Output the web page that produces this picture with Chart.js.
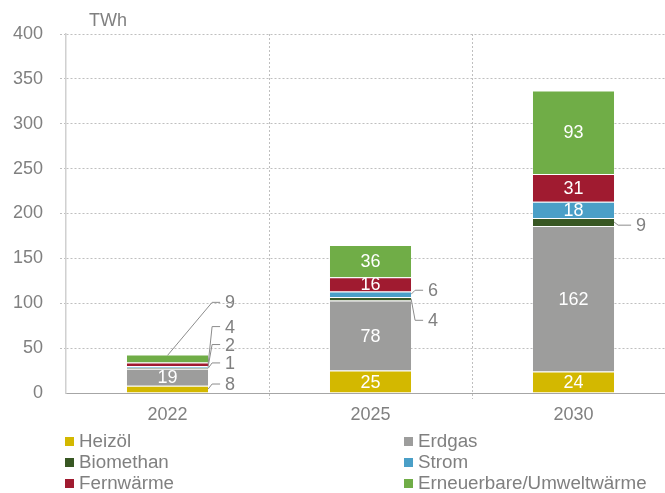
<!DOCTYPE html>
<html>
<head>
<meta charset="utf-8">
<script src="https://cdn.jsdelivr.net/npm/chart.js@4.4.0/dist/chart.umd.min.js"></script>
<style>
    html, body { margin: 0; padding: 0; background: #fff; overflow: hidden; }
    #wrap { position: relative; width: 665px; height: 493px; overflow: hidden; }
    #wrap canvas { position: absolute; left: 0; top: 0; }
    #legend { position: absolute; left: 0; top: 0; width: 665px; height: 493px; font-family: "Liberation Sans", Arial, sans-serif; font-size: 18.8px; color: #808080; }
    .item { position: absolute; display: flex; align-items: center; height: 21px; white-space: nowrap; }
    .box { width: 9px; height: 9px; margin-right: 5px; }
</style>
</head>
<body>
<div id="wrap">
    <canvas id="energyChart" width="676" height="432"></canvas>
    <div id="legend"></div>
</div>
<script>
        // --- Chart Data ---
        const years = ['2022', '2025', '2030'];
        const heizoel = [8, 25, 24];
        const erdgas = [19, 78, 162];
        const biomethan = [1, 4, 9];
        const strom = [2, 6, 18];
        const fernwaerme = [4, 16, 31];
        const erneuerbare = [9, 36, 93];
        const yMin = 0, yMax = 400, yStep = 50;
        const unitLabel = 'TWh';

        const seriesNames = ['Heizöl', 'Erdgas', 'Biomethan', 'Strom', 'Fernwärme', 'Erneuerbare/Umweltwärme'];
        const seriesData = [heizoel, erdgas, biomethan, strom, fernwaerme, erneuerbare];
        const seriesColors = ['#d3b800', '#9d9d9c', '#385723', '#4a9fc7', '#a01b30', '#70ad47'];

        // small values get an outside label with a leader line (key = dataset-index)
        // y = label height in axis units, dx = text offset from the bar's right edge
        const callouts = {
            '5-0': { y: 101, dx: 17, from: 'top' },
            '4-0': { y: 74, dx: 17 },
            '3-0': { y: 54, dx: 17 },
            '2-0': { y: 33.5, dx: 17 },
            '0-0': { y: 10, dx: 17 },
            '3-1': { y: 114.5, dx: 17 },
            '2-1': { y: 81, dx: 17 },
            '2-2': { y: 187, dx: 22 }
        };

        const FONT = '"Liberation Sans", Arial, sans-serif';
        const TEXT_GRAY = '#808080';
        const GRID_GRAY = '#bfbfbf';

        // --- Label plugin ---
        const valueLabels = {
            id: 'valueLabels',
            afterDatasetsDraw(chart) {
                const ctx = chart.ctx;
                const yScale = chart.scales.y;
                ctx.save();
                ctx.font = '18px ' + FONT;
                ctx.textBaseline = 'middle';
                chart.data.datasets.forEach((ds, di) => {
                    const meta = chart.getDatasetMeta(di);
                    meta.data.forEach((bar, i) => {
                        const v = ds.data[i];
                        const top = Math.min(bar.y, bar.base);
                        const bottom = Math.max(bar.y, bar.base);
                        const right = bar.x + bar.width / 2;
                        const c = callouts[di + '-' + i];
                        if (!c) {
                            ctx.fillStyle = '#fff';
                            ctx.textAlign = 'center';
                            ctx.fillText(String(v), bar.x, (top + bottom) / 2 + 1);
                            return;
                        }
                        const ly = yScale.getPixelForValue(c.y);
                        const tx = right + c.dx;
                        let ax, ay, bx;
                        if (c.from === 'top') {
                            ax = bar.x; ay = top + 1; bx = tx - 13;
                        } else {
                            ax = right; ay = (top + bottom) / 2; bx = right + 4;
                        }
                        ctx.strokeStyle = '#8c8c8c';
                        ctx.lineWidth = 1;
                        ctx.beginPath();
                        ctx.moveTo(ax, ay);
                        ctx.lineTo(bx, ly);
                        ctx.lineTo(tx - 5, ly);
                        ctx.stroke();
                        ctx.fillStyle = TEXT_GRAY;
                        ctx.textAlign = 'left';
                        ctx.fillText(String(v), tx, ly + 1);
                    });
                });
                ctx.restore();
            },
            afterDraw(chart) {
                const ctx = chart.ctx;
                ctx.save();
                ctx.font = '18px ' + FONT;
                ctx.fillStyle = TEXT_GRAY;
                ctx.textAlign = 'left';
                ctx.textBaseline = 'middle';
                ctx.fillText(unitLabel, 89, 21);
                ctx.restore();
            }
        };

        // --- Stacked bar chart ---
        const energyCtx = document.getElementById('energyChart').getContext('2d');
        const energyChart = new Chart(energyCtx, {
            type: 'bar',
            data: {
                labels: years,
                datasets: seriesNames.map((name, k) => ({
                    label: name,
                    data: seriesData[k],
                    backgroundColor: seriesColors[k],
                    borderColor: 'rgba(255,255,255,0.55)',
                    borderWidth: { top: 1, bottom: 0, left: 0, right: 0 },
                    borderSkipped: false,
                    barPercentage: 0.4,
                    categoryPercentage: 1
                }))
            },
            options: {
                responsive: false,
                animation: false,
                devicePixelRatio: 1,
                layout: { padding: { top: 34, right: 1, left: 0, bottom: 0 } },
                plugins: {
                    title: { display: false },
                    legend: { display: false },
                    tooltip: { enabled: false }
                },
                scales: {
                    x: {
                        stacked: true,
                        afterFit(scale) { scale.height = 39; },
                        grid: {
                            color: (c) => c.index === 0 ? 'rgba(0,0,0,0)' : GRID_GRAY,
                            tickLength: 6,
                            tickBorderDash: [2, 2],
                            offset: true
                        },
                        border: { display: true, color: '#a6a6a6', width: 1, dash: [2, 2] },
                        ticks: { color: TEXT_GRAY, font: { family: FONT, size: 18 }, padding: 5 }
                    },
                    y: {
                        stacked: true,
                        min: yMin,
                        max: yMax,
                        afterFit(scale) { scale.width = 66; },
                        grid: {
                            color: (c) => c.tick && c.tick.value === 0 ? 'rgba(0,0,0,0)' : GRID_GRAY,
                            tickLength: 6,
                            tickBorderDash: [2, 2]
                        },
                        border: { display: true, color: '#d0d0d0', width: 1.5, dash: [2, 2] },
                        ticks: { stepSize: yStep, color: TEXT_GRAY, font: { family: FONT, size: 18 }, padding: 17 }
                    }
                }
            },
            plugins: [valueLabels]
        });

        // --- HTML legend (two columns) ---
        const legendEl = document.getElementById('legend');
        const legendCols = [65, 404];
        const legendRows = [441, 462, 483];
        seriesNames.forEach((name, k) => {
            const item = document.createElement('div');
            item.className = 'item';
            item.style.left = legendCols[k % 2] + 'px';
            item.style.top = (legendRows[Math.floor(k / 2)] - 10.5) + 'px';
            item.innerHTML = '<span class="box" style="background:' + seriesColors[k] + '"></span><span>' + name + '</span>';
            legendEl.appendChild(item);
        });
</script>
</body>
</html>
